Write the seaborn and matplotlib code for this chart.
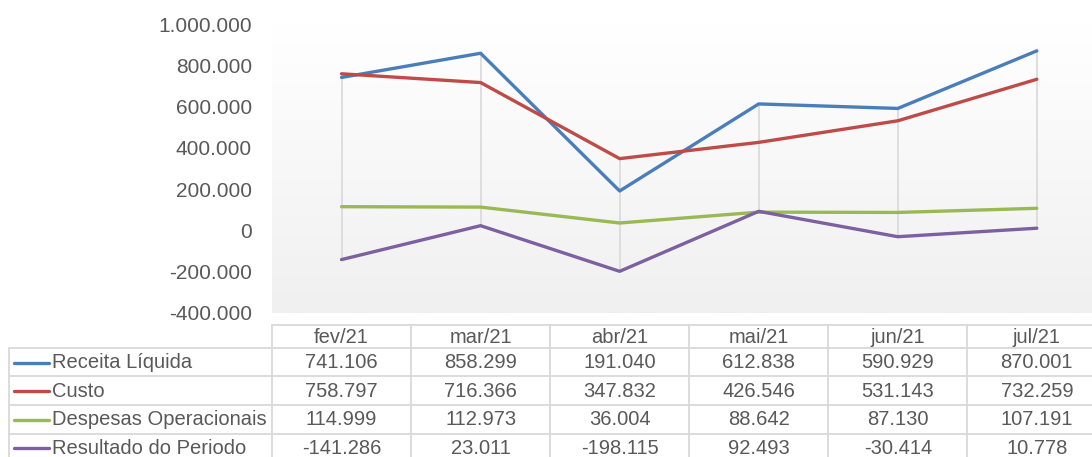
#!/usr/bin/env python3
"""
Line chart with Excel-style data table: monthly revenue, cost, expenses and result.
"""
import numpy as np
import pandas as pd
import matplotlib
matplotlib.use('Agg')
import matplotlib.pyplot as plt
from matplotlib.colors import LinearSegmentedColormap
from matplotlib.ticker import FuncFormatter
import seaborn as sns

# Data
MONTHS = ['fev/21', 'mar/21', 'abr/21', 'mai/21', 'jun/21', 'jul/21']
SERIES = ['Receita Líquida', 'Custo', 'Despesas Operacionais', 'Resultado do Periodo']
RECEITA = [741106, 858299, 191040, 612838, 590929, 870001]
CUSTO = [758797, 716366, 347832, 426546, 531143, 732259]
DESPESAS = [114999, 112973, 36004, 88642, 87130, 107191]
RESULTADO = [-141286, 23011, -198115, 92493, -30414, 10778]
COLORS = ['#4a7ebb', '#be4b48', '#98b954', '#7d60a0']

TEXT_COLOR = '#595959'
GRID_COLOR = '#d9d9d9'
FONT = 'Liberation Sans'
FS = 14.5


def fmt(v):
    """Brazilian thousands separator."""
    return f"{v:,.0f}".replace(',', '.')


def build_frame():
    rows = []
    for name, values in zip(SERIES, [RECEITA, CUSTO, DESPESAS, RESULTADO]):
        for month, v in zip(MONTHS, values):
            rows.append({'mes': month, 'serie': name, 'valor': v})
    return pd.DataFrame(rows)


def main():
    sns.set_style('white')
    plt.rcParams['font.family'] = [FONT, 'DejaVu Sans']

    df = build_frame()
    W, H = 1092, 457
    fig = plt.figure(figsize=(W / 100, H / 100), dpi=100)

    # plot area in pixel coords
    left_px, top_px, bottom_px = 272, 24, 313
    col_w = 139.06
    right_px = left_px + col_w * len(MONTHS)
    ax = fig.add_axes([left_px / W, 1 - bottom_px / H,
                       (right_px - left_px) / W, (bottom_px - top_px) / H])

    # gradient background, white on top to light grey at bottom
    cmap = LinearSegmentedColormap.from_list('bg', ['#ffffff', '#f0f0f0'])
    grad = np.linspace(0, 1, 256).reshape(-1, 1)
    ax.imshow(grad, extent=[0, 1, 0, 1], origin='upper', transform=ax.transAxes,
              cmap=cmap, aspect='auto', zorder=0)

    # high-low lines
    values = df.pivot(index='mes', columns='serie', values='valor').loc[MONTHS]
    xs = np.arange(len(MONTHS))
    ax.vlines(xs, values.min(axis=1), values.max(axis=1), color=GRID_COLOR,
              lw=1.2, zorder=1)

    sns.lineplot(data=df, x='mes', y='valor', hue='serie', hue_order=SERIES,
                 palette=COLORS, sort=False, lw=2.4, legend=False, ax=ax, zorder=3)

    ax.set_xlim(-0.5, len(MONTHS) - 0.5)
    ax.set_ylim(-400000, 1000000)
    ax.set_yticks(np.arange(-400000, 1000001, 200000))
    ax.yaxis.set_major_formatter(FuncFormatter(lambda v, _: fmt(v)))
    ax.set_xticks([])
    ax.set_xlabel('')
    ax.set_ylabel('')
    ax.tick_params(axis='y', length=0, pad=14.5, labelsize=15, labelcolor=TEXT_COLOR)
    for s in ax.spines.values():
        s.set_visible(False)

    # data table
    tab = fig.add_axes([0, 0, 1, 1])
    tab.set_xlim(0, W)
    tab.set_ylim(H, 0)
    tab.axis('off')
    tab.patch.set_alpha(0)

    head_top, head_bot = 325, 347.7
    row_h = 28.6
    label_left = 9
    col_edges = [left_px + i * col_w for i in range(len(MONTHS) + 1)]
    row_edges = [head_bot + i * row_h for i in range(len(SERIES) + 1)]

    # header row
    tab.plot([left_px, right_px], [head_top, head_top], color=GRID_COLOR, lw=1.3)
    for x in col_edges:
        tab.plot([x, x], [head_top, row_edges[-1]], color=GRID_COLOR, lw=1.3)
    for i, m in enumerate(MONTHS):
        tab.text(left_px + (i + 0.5) * col_w, (head_top + head_bot) / 2 + 1, m,
                 ha='center', va='center', fontsize=FS, color=TEXT_COLOR)

    # body rows
    for y in row_edges:
        tab.plot([label_left, right_px], [y, y], color=GRID_COLOR, lw=1.3)
    tab.plot([label_left, label_left], [head_bot, row_edges[-1]], color=GRID_COLOR, lw=1.3)

    for r, (name, vals, c) in enumerate(zip(SERIES, [RECEITA, CUSTO, DESPESAS, RESULTADO], COLORS)):
        yc = row_edges[r] + row_h / 2 + 0.5
        tab.plot([14, 49], [yc, yc], color=c, lw=2.4)
        tab.text(52, yc, name, ha='left', va='center', fontsize=FS, color=TEXT_COLOR)
        for i, v in enumerate(vals):
            tab.text(left_px + (i + 0.5) * col_w, yc, fmt(v), ha='center', va='center',
                     fontsize=FS, color=TEXT_COLOR)

    fig.savefig('out.png', dpi=100)
    plt.close(fig)


if __name__ == "__main__":
    main()
